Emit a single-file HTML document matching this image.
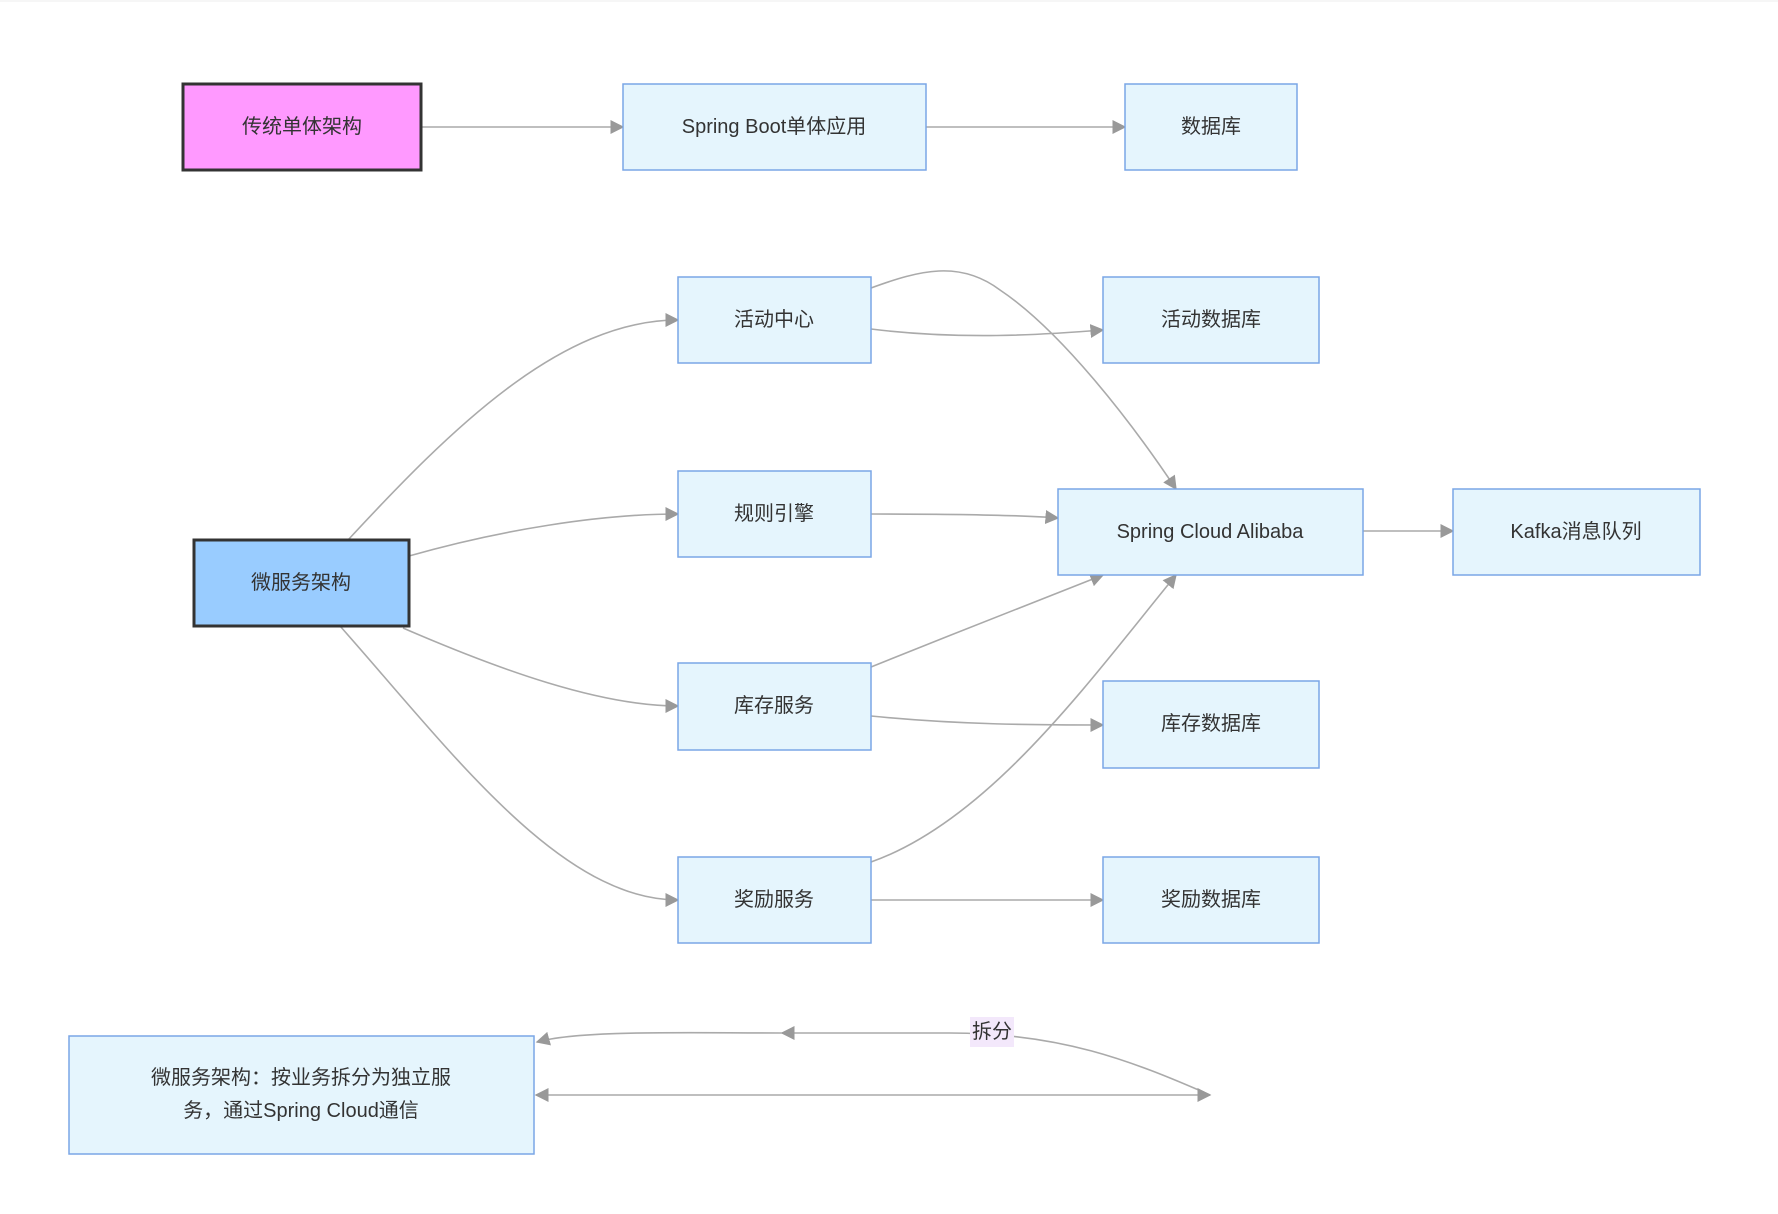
<!DOCTYPE html>
<html><head><meta charset="utf-8"><style>
html,body{margin:0;padding:0;background:#fff;}
svg{display:block;}
text{font-family:"Liberation Sans","Noto Sans CJK SC",sans-serif;font-size:20px;fill:#333;text-anchor:middle;dominant-baseline:central;}
.n{fill:#e5f5fd;stroke:#7aa6e6;stroke-width:1.5;}
.e{fill:none;stroke:#aaa;stroke-width:1.6;marker-end:url(#a);}
</style></head><body>
<svg width="1778" height="1214" viewBox="0 0 1778 1214" xmlns="http://www.w3.org/2000/svg">
<defs><marker id="a" viewBox="0 0 10 10" refX="9" refY="5" markerWidth="14" markerHeight="14" orient="auto-start-reverse" markerUnits="userSpaceOnUse"><path d="M0,0L10,5L0,10z" fill="#999"/></marker></defs>
<line x1="0" y1="1" x2="1778" y2="1" stroke="#eee"/>
<path class="e" d="M421,127 L623,127"/>
<path class="e" d="M926,127 L1125,127"/>
<path class="e" d="M348,540 C450,430 560,320 678,320"/>
<path class="e" d="M409,556 C500,530 600,514 678,514"/>
<path class="e" d="M403,628 C500,670 600,706 678,706"/>
<path class="e" d="M340,626 C450,750 560,900 678,900"/>
<path class="e" d="M871,288 C920,270 960,260 1000,290 C1060,330 1130,420 1176,489"/>
<path class="e" d="M871,329 C960,340 1040,335 1103,330"/>
<path class="e" d="M871,514 C960,514 1020,515 1058,518"/>
<path class="e" d="M871,667 C950,635 1040,600 1103,575"/>
<path class="e" d="M871,716 C960,725 1040,725 1103,725"/>
<path class="e" d="M871,862 C990,820 1090,680 1176,575"/>
<path class="e" d="M871,900 L1103,900"/>
<path class="e" d="M1363,531 L1453,531"/>
<path class="e" d="M1210,1095 C1130,1060 1060,1033 950,1033 L782,1033"/>
<path class="e" d="M782,1033 C680,1033 580,1030 537,1042"/>
<path class="e" d="M536,1095 L1210,1095" style="marker-start:url(#a)"/>
<rect x="183" y="84" width="238" height="86" fill="#ff99ff" stroke="#333" stroke-width="3"/><text x="302" y="127">传统单体架构</text>
<rect class="n" x="623" y="84" width="303" height="86"/><text x="774" y="127">Spring Boot单体应用</text>
<rect class="n" x="1125" y="84" width="172" height="86"/><text x="1211" y="127">数据库</text>
<rect class="n" x="678" y="277" width="193" height="86"/><text x="774" y="320">活动中心</text>
<rect class="n" x="1103" y="277" width="216" height="86"/><text x="1211" y="320">活动数据库</text>
<rect class="n" x="678" y="471" width="193" height="86"/><text x="774" y="514">规则引擎</text>
<rect class="n" x="1058" y="489" width="305" height="86"/><text x="1210" y="532">Spring Cloud Alibaba</text>
<rect class="n" x="1453" y="489" width="247" height="86"/><text x="1576" y="532">Kafka消息队列</text>
<rect x="194" y="540" width="215" height="86" fill="#99ccff" stroke="#333" stroke-width="3"/><text x="301" y="583">微服务架构</text>
<rect class="n" x="678" y="663" width="193" height="87"/><text x="774" y="706">库存服务</text>
<rect class="n" x="1103" y="681" width="216" height="87"/><text x="1211" y="724">库存数据库</text>
<rect class="n" x="678" y="857" width="193" height="86"/><text x="774" y="900">奖励服务</text>
<rect class="n" x="1103" y="857" width="216" height="86"/><text x="1211" y="900">奖励数据库</text>
<rect class="n" x="69" y="1036" width="465" height="118"/>
<text x="301" y="1078">微服务架构：按业务拆分为独立服</text>
<text x="301" y="1111">务，通过Spring Cloud通信</text>
<rect x="970" y="1017" width="44" height="30" fill="#f3e8fb"/><text x="992" y="1032">拆分</text>
</svg>
</body></html>
